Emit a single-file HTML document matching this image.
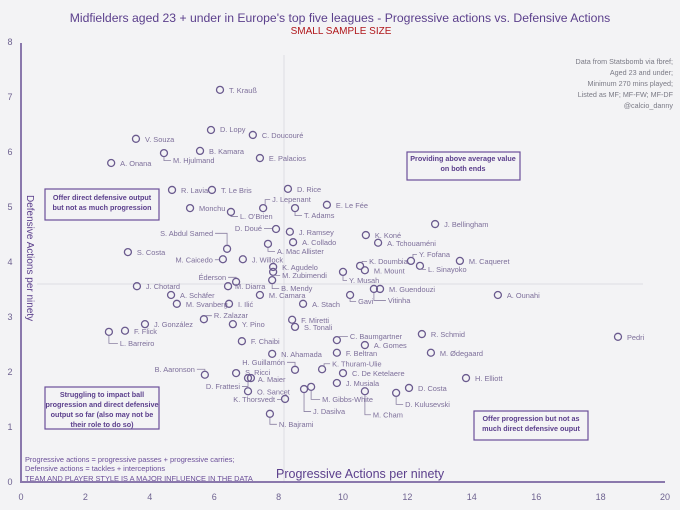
<!DOCTYPE html>
<html><head><meta charset="utf-8">
<style>
html,body{margin:0;padding:0;background:#f3f3f5;}
svg{display:block;font-family:"Liberation Sans",sans-serif;}
.lbl{font-size:7.4px;fill:#7d6f9a;}
.tick{font-size:9px;fill:#6e6290;}
.box{fill:none;stroke:#6b4f99;stroke-width:1.2;}
.boxt{font-size:7.2px;fill:#5b3f8c;font-weight:bold;text-anchor:middle;}
.info{font-size:7.2px;fill:#7a7a85;text-anchor:end;}
.foot{font-size:7.4px;fill:#6b4f99;}
</style></head>
<body>
<svg id="chart" width="680" height="510" viewBox="0 0 680 510" xmlns="http://www.w3.org/2000/svg">
<rect width="680" height="510" fill="#f3f3f5"/>
<text x="340" y="22" text-anchor="middle" font-size="12.2" fill="#5b3f8c">Midfielders aged 23 + under in Europe's top five leagues - Progressive actions vs. Defensive Actions</text>
<text x="341" y="34" text-anchor="middle" font-size="10" fill="#b0161a">SMALL SAMPLE SIZE</text>
<g>
<text class="info" x="673" y="64">Data from Statsbomb via fbref;</text>
<text class="info" x="673" y="75">Aged 23 and under;</text>
<text class="info" x="673" y="86">Minimum 270 mins played;</text>
<text class="info" x="673" y="97">Listed as MF; MF-FW; MF-DF</text>
<text class="info" x="673" y="108">@calcio_danny</text>
</g>
<line x1="284" y1="55" x2="284" y2="482" stroke="#dcdce2" stroke-width="1"/>
<line x1="37" y1="284" x2="643" y2="284" stroke="#dcdce2" stroke-width="1"/>
<line x1="21" y1="43" x2="21" y2="483" stroke="#8a78ac" stroke-width="2"/>
<line x1="20" y1="482" x2="665" y2="482" stroke="#8a78ac" stroke-width="2"/>
<text x="276" y="478" font-size="12.5" fill="#5b3f8c">Progressive Actions per ninety</text>
<text transform="translate(27,195) rotate(90)" font-size="10" fill="#5b3f8c">Defensive Actions per ninety</text>
<g><rect class="box" x="45" y="189" width="114" height="31"/><text class="boxt" x="102" y="200">Offer direct defensive output</text><text class="boxt" x="102" y="210">but not as much progression</text></g>
<g><rect class="box" x="407" y="152" width="113" height="28"/><text class="boxt" x="463" y="161">Providing above average value</text><text class="boxt" x="463" y="171">on both ends</text></g>
<g><rect class="box" x="45" y="387" width="114" height="42"/><text class="boxt" x="102" y="397">Struggling to impact ball</text><text class="boxt" x="102" y="407">progression and direct defensive</text><text class="boxt" x="102" y="417">output so far (also may not be</text><text class="boxt" x="102" y="427">their role to do so)</text></g>
<g><rect class="box" x="474" y="411" width="114" height="29"/><text class="boxt" x="531" y="421">Offer progression but not as</text><text class="boxt" x="531" y="431">much direct defensive ouput</text></g>
<g>
<text class="foot" x="25" y="462">Progressive actions = progressive passes + progressive carries;</text>
<text class="foot" x="25" y="471">Defensive actions = tackles + interceptions</text>
<text class="foot" x="25" y="481">TEAM AND PLAYER STYLE IS A MAJOR INFLUENCE IN THE DATA</text>
</g>
<g id="ticks"></g>
<g id="points"></g>
</svg>
<script>
const xTicks=[0,2,4,6,8,10,12,14,16,18,20];
const yTicks=[0,1,2,3,4,5,6,7,8];
const players=["T. Krauß","D. Lopy","C. Doucouré","V. Souza","B. Kamara","M. Hjulmand","E. Palacios","A. Onana","D. Rice","R. Lavia","T. Le Bris","Monchu","J. Lepenant","T. Adams","E. Le Fée","L. O'Brien","D. Doué","J. Ramsey","A. Collado","S. Abdul Samed","A. Mac Allister","M. Caicedo","J. Willock","K. Agudelo","M. Zubimendi","B. Mendy","Éderson","M. Diarra","M. Camara","A. Schäfer","M. Svanberg","I. Ilić","A. Stach","J. Chotard","S. Costa","J. González","R. Zalazar","Y. Pino","F. Miretti","S. Tonali","F. Flick","L. Barreiro","F. Chaibi","N. Ahamada","H. Guillamón","B. Aaronson","S. Ricci","D. Frattesi","A. Maier","O. Sancet","K. Thorsvedt","J. Dasilva","M. Gibbs-White","N. Bajrami","J. Bellingham","K. Koné","A. Tchouaméni","Y. Fofana","M. Caqueret","K. Doumbia","M. Mount","L. Sinayoko","Y. Musah","M. Guendouzi","Vitinha","Gavi","A. Ounahi","C. Baumgartner","R. Schmid","A. Gomes","F. Beltran","M. Ødegaard","K. Thuram-Ulie","C. De Ketelaere","J. Musiala","H. Elliott","D. Costa","D. Kulusevski","M. Cham","Pedri"];
const progressive=[6.18,5.90,7.20,3.57,5.56,4.44,7.42,2.80,8.29,4.69,5.93,5.25,7.52,8.51,9.50,6.52,7.92,8.35,8.45,6.40,7.67,6.27,6.89,7.83,7.83,7.80,6.68,6.43,7.42,4.66,4.84,6.46,8.76,3.60,3.32,3.85,5.68,6.58,8.42,8.51,3.23,2.73,6.86,7.80,8.51,5.71,6.68,7.05,7.14,7.05,8.20,8.79,9.01,7.73,12.86,10.71,11.09,12.11,13.63,10.53,10.68,12.39,10.00,11.15,10.96,10.22,14.81,9.81,12.45,10.68,9.81,12.73,9.35,10.00,9.81,13.82,12.05,11.65,10.68,18.54];
const defensive=[7.13,6.40,6.31,6.24,6.02,5.98,5.89,5.80,5.33,5.31,5.31,4.98,4.98,4.98,5.04,4.91,4.60,4.55,4.36,4.24,4.33,4.05,4.05,3.91,3.82,3.67,3.64,3.56,3.40,3.40,3.24,3.24,3.24,3.56,4.18,2.87,2.96,2.87,2.95,2.82,2.75,2.73,2.56,2.33,2.04,1.95,1.98,1.89,1.89,1.65,1.51,1.69,1.73,1.24,4.69,4.49,4.35,4.02,4.02,3.93,3.85,3.93,3.82,3.51,3.51,3.40,3.40,2.58,2.69,2.49,2.35,2.35,2.05,1.98,1.80,1.89,1.71,1.62,1.65,2.64];
// label placement styles (not data): [dx, dy, anchor, leader]
const special={
"M. Hjulmand":[9,10,"start",1],"L. O'Brien":[9,7,"start",1],"J. Lepenant":[9,-6,"start",3],"T. Adams":[9,10,"start",1],
"D. Doué":[-14,2,"end",2],"S. Abdul Samed":[-14,-13,"end",4],"A. Mac Allister":[9,10,"start",1],"M. Caicedo":[-10,3,"end",2],
"M. Zubimendi":[9,6,"start",1],"B. Mendy":[9,11,"start",1],"Éderson":[-10,-2,"end",4],"M. Diarra":[7,3,"start",0],
"Y. Musah":[6,11,"start",1],"K. Doumbia":[9,-2,"start",3],"Y. Fofana":[8,-4,"start",3],"L. Sinayoko":[8,6,"start",1],
"Vitinha":[14,14,"start",1],"Gavi":[8,9,"start",1],"C. Baumgartner":[13,-1,"start",3],"K. Thuram-Ulie":[10,-3,"start",3],
"H. Guillamón":[-10,-5,"end",4],"B. Aaronson":[-10,-3,"end",4],"S. Ricci":[9,2,"start",0],"A. Maier":[7,4,"start",0],
"D. Frattesi":[-8,11,"end",4],"K. Thorsvedt":[-10,3,"end",2],"J. Dasilva":[9,25,"start",1],"M. Gibbs-White":[11,15,"start",1],
"N. Bajrami":[9,13,"start",1],"M. Cham":[8,26,"start",1],"D. Kulusevski":[9,14,"start",1],"L. Barreiro":[11,14,"start",1],
"R. Zalazar":[10,-1,"start",3],"D. Lopy":[9,2,"start",0]};
const X0=21,XS=32.2,Y0=482,YS=55;
function xScale(v){return X0+v*XS;}
function yScale(v){return Y0-v*YS;}
const NS="http://www.w3.org/2000/svg";
const tg=document.getElementById('ticks');
xTicks.forEach(t=>{const e=document.createElementNS(NS,'text');e.setAttribute('x',xScale(t));e.setAttribute('y',500);e.setAttribute('text-anchor','middle');e.setAttribute('class','tick');e.textContent=t;


tg.appendChild(e);});
yTicks.forEach(t=>{const e=document.createElementNS(NS,'text');e.setAttribute('x',10);e.setAttribute('y',yScale(t)+3);e.setAttribute('text-anchor','middle');e.setAttribute('class','tick');e.textContent=t;


tg.appendChild(e);});
const pg=document.getElementById('points');
players.forEach((name,i)=>{
 const cx=xScale(progressive[i]),cy=yScale(defensive[i]);
 const g=document.createElementNS(NS,'g');
 
 
 const c=document.createElementNS(NS,'circle');
 c.setAttribute('cx',cx);c.setAttribute('cy',cy);c.setAttribute('r',3.5);
 c.setAttribute('fill','none');c.setAttribute('stroke','#6a5a8e');c.setAttribute('stroke-width','1.3');
 
 
 g.appendChild(c);
 const s=special[name]||[9,3,"start",0];
 const lx=cx+s[0],ly=cy+s[1];
 if(s[3]){
  const p=document.createElementNS(NS,'path');let d;
  if(s[3]===1) d=`M${cx},${cy+4} V${ly-2.5} H${lx-2}`;
  else if(s[3]===3) d=`M${cx+2},${cy-3} V${ly-2.5} H${lx-2}`;
  else if(s[3]===2) d=`M${lx+2},${ly-2.5} H${cx-4}`;
  else d=`M${lx+2},${ly-2.5} H${cx} V${cy-4}`;
  p.setAttribute('d',d);p.setAttribute('fill','none');p.setAttribute('stroke','#8a80a2');p.setAttribute('stroke-width','0.8');
  
  
  g.appendChild(p);
 }
 const t=document.createElementNS(NS,'text');
 t.setAttribute('x',lx);t.setAttribute('y',ly);t.setAttribute('text-anchor',s[2]);t.setAttribute('class','lbl');
 t.textContent=name;
 
 
 g.appendChild(t);
 pg.appendChild(g);
});
</script>
</body></html>
